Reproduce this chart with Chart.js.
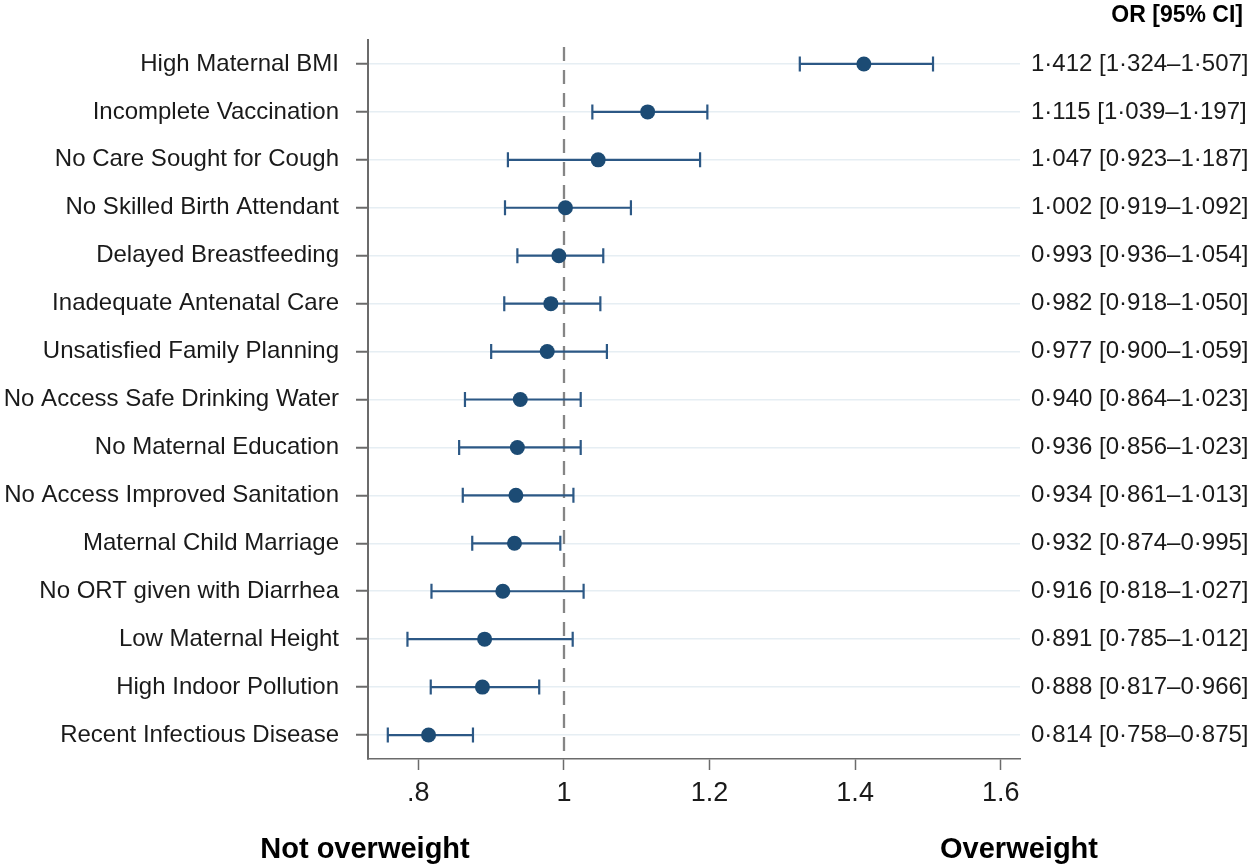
<!DOCTYPE html>
<html>
<head>
<meta charset="utf-8">
<script src="https://cdn.jsdelivr.net/npm/chart.js@4/dist/chart.umd.min.js"></script>
<style>
  html, body { margin: 0; padding: 0; background: #ffffff; }
  #wrap { width: 1248px; height: 865px; }
</style>
</head>
<body>
<div id="wrap"><canvas id="c" width="1248" height="865"></canvas></div>
<script>
const categories = [
  "High Maternal BMI",
  "Incomplete Vaccination",
  "No Care Sought for Cough",
  "No Skilled Birth Attendant",
  "Delayed Breastfeeding",
  "Inadequate Antenatal Care",
  "Unsatisfied Family Planning",
  "No Access Safe Drinking Water",
  "No Maternal Education",
  "No Access Improved Sanitation",
  "Maternal Child Marriage",
  "No ORT given with Diarrhea",
  "Low Maternal Height",
  "High Indoor Pollution",
  "Recent Infectious Disease"
];
const oddsRatio = [1.412, 1.115, 1.047, 1.002, 0.993, 0.982, 0.977, 0.940, 0.936, 0.934, 0.932, 0.916, 0.891, 0.888, 0.814];
const ciLower   = [1.324, 1.039, 0.923, 0.919, 0.936, 0.918, 0.900, 0.864, 0.856, 0.861, 0.874, 0.818, 0.785, 0.817, 0.758];
const ciUpper   = [1.507, 1.197, 1.187, 1.092, 1.054, 1.050, 1.059, 1.023, 1.023, 1.013, 0.995, 1.027, 1.012, 0.966, 0.875];
const xTickValues = [0.8, 1, 1.2, 1.4, 1.6];
const referenceValue = 1;
const rightHeader = "OR [95% CI]";
const bottomLeftLabel = "Not overweight";
const bottomRightLabel = "Overweight";

const fmt = v => v.toFixed(3).replace('.', '\u00B7');
const orLabels = oddsRatio.map((v, i) => fmt(v) + ' [' + fmt(ciLower[i]) + '\u2013' + fmt(ciUpper[i]) + ']');
const fmtTick = v => { let s = String(v); return s.startsWith('0.') ? s.slice(1) : s; };

const FONT = "'Liberation Sans', Arial, Helvetica, sans-serif";

const forestPlugin = {
  id: 'forest',
  beforeDatasetsDraw(chart) {
    const ctx = chart.ctx;
    const xs = chart.scales.x, ys = chart.scales.y;
    const area = chart.chartArea;
    // reference line
    ctx.save();
    ctx.strokeStyle = '#858585';
    ctx.lineWidth = 2.3;
    ctx.setLineDash([14, 9]);
    const rx = Math.round(xs.getPixelForValue(referenceValue));
    ctx.beginPath();
    ctx.moveTo(rx, area.top + 7);
    ctx.lineTo(rx, area.bottom);
    ctx.stroke();
    ctx.restore();
    // CI bars
    ctx.save();
    ctx.strokeStyle = '#2c5885';
    ctx.lineWidth = 2.2;
    for (let i = 0; i < categories.length; i++) {
      const y = ys.getPixelForValue(i);
      const x0 = xs.getPixelForValue(ciLower[i]);
      const x1 = xs.getPixelForValue(ciUpper[i]);
      ctx.beginPath();
      ctx.moveTo(x0, y); ctx.lineTo(x1, y);
      ctx.moveTo(x0, y - 7.5); ctx.lineTo(x0, y + 7.5);
      ctx.moveTo(x1, y - 7.5); ctx.lineTo(x1, y + 7.5);
      ctx.stroke();
    }
    ctx.restore();
  },
  afterDraw(chart) {
    const ctx = chart.ctx;
    ctx.save();
    ctx.fillStyle = '#000000';
    ctx.font = "bold 23px " + FONT;
    ctx.textAlign = 'right';
    ctx.textBaseline = 'middle';
    ctx.fillText(rightHeader, 1243, 16);
    ctx.font = "bold 29px " + FONT;
    ctx.textAlign = 'center';
    ctx.fillText(bottomLeftLabel, 365, 850);
    ctx.fillText(bottomRightLabel, 1019, 850);
    ctx.restore();
  }
};

new Chart(document.getElementById('c'), {
  type: 'scatter',
  data: {
    datasets: [{
      data: oddsRatio.map((v, i) => ({ x: v, y: i })),
      backgroundColor: '#1c4b74',
      borderWidth: 0,
      pointRadius: 7.5,
      pointHoverRadius: 7.5
    }]
  },
  options: {
    responsive: false,
    animation: false,
    devicePixelRatio: 1,
    layout: { padding: { top: 40, left: 0, right: 0, bottom: 0 } },
    plugins: { legend: { display: false }, tooltip: { enabled: false } },
    scales: {
      x: {
        type: 'linear',
        min: 0.7308,
        max: 1.6265,
        afterBuildTicks(scale) { scale.ticks = xTickValues.map(v => ({ value: v })); },
        afterFit(scale) { scale.height = 106; },
        ticks: {
          callback: v => fmtTick(v),
          font: { family: FONT, size: 27 },
          color: '#1a1a1a',
          padding: 7,
          maxRotation: 0,
          autoSkip: false
        },
        grid: {
          drawOnChartArea: false,
          drawTicks: true,
          tickLength: 11,
          tickColor: '#6b6b6b',
          tickWidth: 1.5
        },
        border: { display: true, color: '#6b6b6b', width: 1.5 }
      },
      y: {
        type: 'category',
        labels: categories,
        offset: true,
        position: 'left',
        afterFit(scale) { scale.width = 368; },
        ticks: {
          font: { family: FONT, size: 24 },
          color: '#1a1a1a',
          padding: 17,
          autoSkip: false
        },
        grid: {
          color: '#e6eef3',
          lineWidth: 1.5,
          drawTicks: true,
          tickLength: 12,
          tickColor: '#6b6b6b',
          tickWidth: 2
        },
        border: { display: true, color: '#6b6b6b', width: 2 }
      },
      y2: {
        type: 'category',
        labels: orLabels,
        offset: true,
        position: 'right',
        afterFit(scale) { scale.width = 228; },
        ticks: {
          font: { family: FONT, size: 24 },
          color: '#1a1a1a',
          padding: 11,
          autoSkip: false
        },
        grid: { display: false, drawOnChartArea: false, drawTicks: false, tickLength: 0 },
        border: { display: false }
      }
    }
  },
  plugins: [forestPlugin]
});
</script>
</body>
</html>
